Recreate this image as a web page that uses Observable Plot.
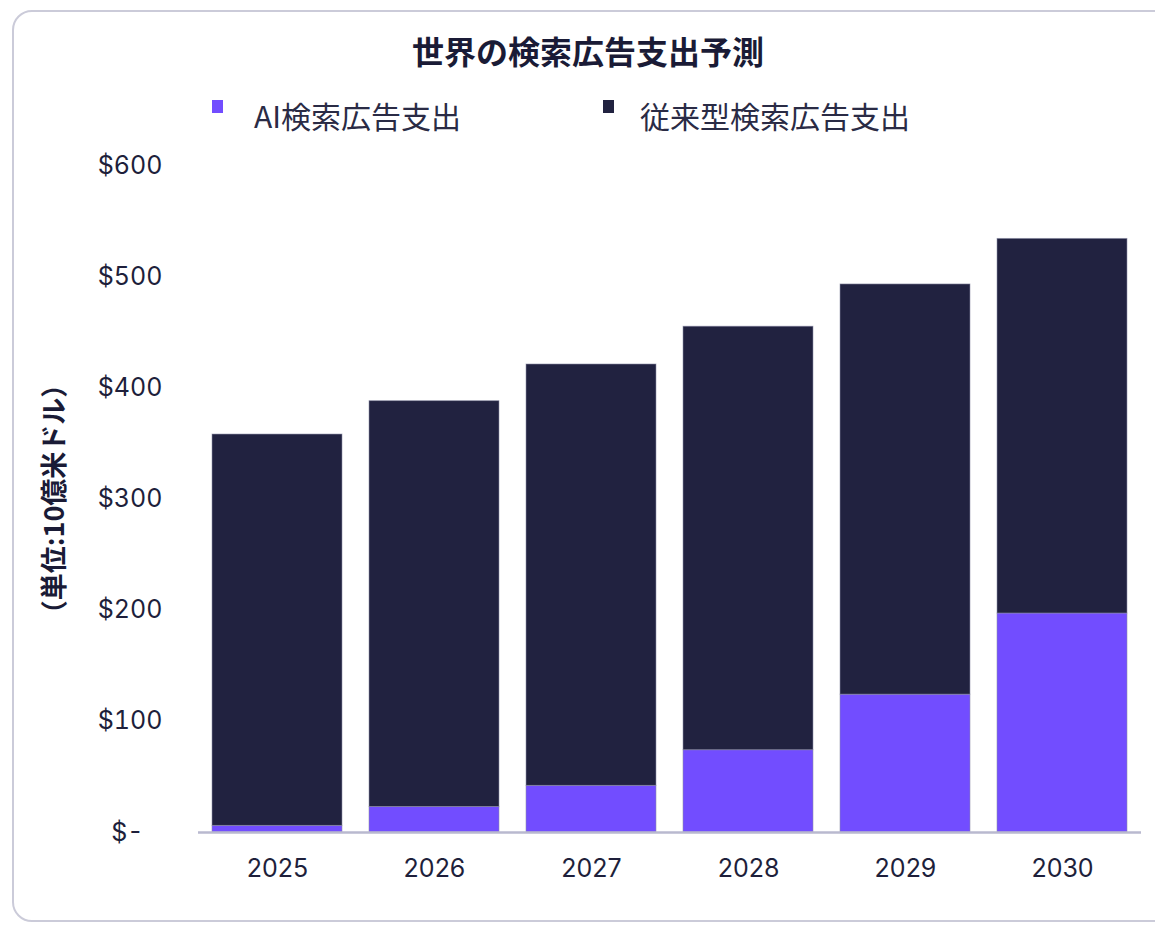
<!DOCTYPE html>
<html><head><meta charset="utf-8">
<script src="https://cdn.jsdelivr.net/npm/d3@7"></script>
<script src="https://cdn.jsdelivr.net/npm/@observablehq/plot@0.6"></script>
<style>
body{margin:0;background:#fff;width:1155px;height:927px;overflow:hidden;position:relative;font-family:"Noto Sans CJK JP",sans-serif;color:#1e1f3b}
#card{position:absolute;left:12px;top:10px;width:1170px;height:912px;border:2px solid #cbcbd9;border-radius:20px;box-sizing:border-box}
#title{position:absolute;left:0;width:1176px;top:32px;line-height:36px;text-align:center;font-size:32px;font-weight:700;color:#1a1b36}
.sw{position:absolute;width:11px;height:13px;top:100px}
.lt{position:absolute;top:97px;line-height:36px;font-size:30px;color:#2a2b45;white-space:nowrap}
#chart{position:absolute;left:0;top:140px}
</style></head>
<body>
<div id="card"></div>
<div id="title"></div>
<div id="legend"></div>
<div id="chart"></div>
<script>
const chartTitle = "世界の検索広告支出予測";
const yTitle = "（単位:10億米ドル）";
const years = ["2025", "2026", "2027", "2028", "2029", "2030"];
const seriesNames = ["AI検索広告支出", "従来型検索広告支出"];
const seriesColors = ["#724dff", "#212240"];
const aiSpend = [6, 23, 42, 74, 124, 197];
const traditionalSpend = [352, 365, 379, 381, 369, 337];
const yTicks = [0, 100, 200, 300, 400, 500, 600];

document.getElementById("title").textContent = chartTitle;
const legendPos = [{sw: 212, tx: 254}, {sw: 603, tx: 640}];
const legend = document.getElementById("legend");
seriesNames.forEach((name, i) => {
  const s = document.createElement("div");
  s.className = "sw"; s.style.left = legendPos[i].sw + "px"; s.style.background = seriesColors[i];
  const t = document.createElement("div");
  t.className = "lt"; t.style.left = legendPos[i].tx + "px"; t.textContent = name;
  legend.appendChild(s); legend.appendChild(t);
});

const rows = [];
years.forEach((y, i) => {
  rows.push({year: y, series: seriesNames[0], value: aiSpend[i]});
  rows.push({year: y, series: seriesNames[1], value: traditionalSpend[i]});
});

const chart = Plot.plot({
  width: 1155, height: 787,
  marginTop: 25, marginBottom: 95, marginLeft: 198, marginRight: 14,
  style: {fontFamily: "Inter, sans-serif", fontSize: "25px", color: "#1e1f3b", background: "transparent"},
  x: {domain: years, paddingInner: 0.174, paddingOuter: 0.087, label: null},
  y: {domain: [0, 600], label: null},
  color: {domain: seriesNames, range: seriesColors},
  marks: [
    Plot.barY(rows, {x: "year", y: "value", fill: "series", stroke: "#8f90a8", strokeWidth: 0.8, strokeOpacity: 0.7}),
    Plot.ruleY([0], {stroke: "#b9b9cf", strokeWidth: 2.5}),
    Plot.axisX({tickSize: 0, tickPadding: 27, label: null}),
    Plot.axisY({ticks: yTicks.slice(1), tickSize: 0, tickPadding: 36, tickFormat: d => "$" + d, label: null}),
    Plot.axisY({ticks: [0], tickSize: 0, tickPadding: 55, tickFormat: () => "$-", label: null}),
    Plot.text([yTitle], {text: d => d, frameAnchor: "left", textAnchor: "middle", dx: -143, rotate: -90, fontWeight: 700, fontSize: 27, fontFamily: "Noto Sans CJK JP", fill: "#1a1b36"})
  ]
});
document.getElementById("chart").appendChild(chart);
</script>
</body></html>
